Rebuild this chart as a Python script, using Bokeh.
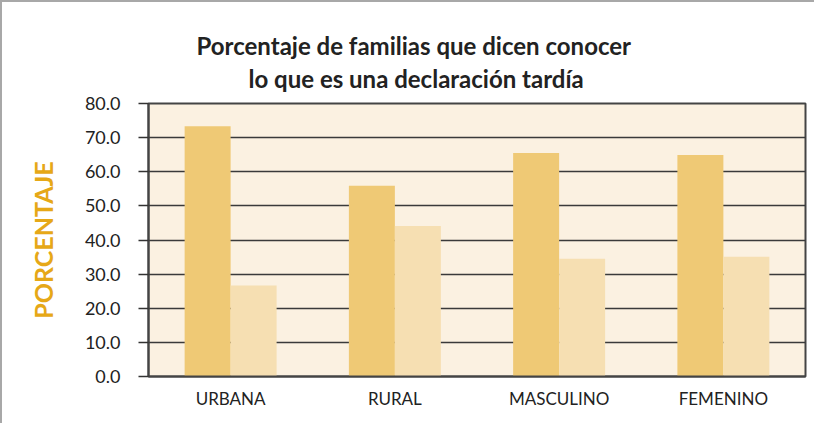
from bokeh.plotting import figure
from bokeh.models import ColumnDataSource, FactorRange, Range1d, FixedTicker, NumeralTickFormatter, Title
from bokeh.transform import dodge
from bokeh.embed import file_html
from bokeh.resources import INLINE

categories = ["URBANA", "RURAL", "MASCULINO", "FEMENINO"]
conoce = [73.3, 55.9, 65.5, 64.9]
no_conoce = [26.7, 44.1, 34.5, 35.1]
y_ticks = [0, 10, 20, 30, 40, 50, 60, 70, 80]
title_lines = ["Porcentaje de familias que dicen conocer", "lo que es una declaración tardía"]

src = ColumnDataSource(dict(cat=categories, a=conoce, b=no_conoce))

p = figure(x_range=FactorRange(*categories), y_range=Range1d(0, 80),
           width=814, height=423, output_backend="svg", toolbar_location=None,
           min_border_left=146, min_border_right=11, min_border_top=101, min_border_bottom=49)
p.styles = {"border-left": "2px solid #a8a8a8", "border-top": "2px solid #a8a8a8"}

p.vbar(x=dodge("cat", -0.14, range=p.x_range), top="a", width=0.28, source=src,
       fill_color="#EFC975", line_color=None)
p.vbar(x=dodge("cat", 0.14, range=p.x_range), top="b", width=0.28, source=src,
       fill_color="#F6DFB2", line_color=None)

p.background_fill_color = "#FBF1E1"
p.border_fill_color = "white"
p.outline_line_color = "#444444"
p.outline_line_width = 2

p.xgrid.grid_line_color = None
p.ygrid.grid_line_color = "#3a3a3a"
p.ygrid.grid_line_width = 1.5
p.ygrid.ticker = FixedTicker(ticks=y_ticks)
p.ygrid.level = "underlay"

p.yaxis.ticker = FixedTicker(ticks=y_ticks)
p.yaxis.formatter = NumeralTickFormatter(format="0.0")
p.yaxis.major_tick_out = 10
p.yaxis.major_tick_in = 0
p.yaxis.minor_tick_line_color = None
p.yaxis.major_tick_line_color = "#333333"
p.yaxis.major_tick_line_width = 1.5
p.yaxis.axis_line_color = "#444444"
p.yaxis.axis_line_width = 2
p.yaxis.major_label_text_font = "Lato"
p.yaxis.major_label_text_font_size = "18px"
p.yaxis.major_label_text_color = "#222222"
p.yaxis.major_label_standoff = 18
p.yaxis.axis_label = "PORCENTAJE"
p.yaxis.axis_label_text_font = "Lato"
p.yaxis.axis_label_text_font_style = "bold"
p.yaxis.axis_label_text_font_size = "25px"
p.yaxis.axis_label_text_color = "#E6A817"
p.yaxis.axis_label_standoff = 24

p.xaxis.major_tick_line_color = None
p.xaxis.minor_tick_line_color = None
p.xaxis.axis_line_color = "#444444"
p.xaxis.axis_line_width = 2
p.xaxis.major_label_text_font = "Lato"
p.xaxis.major_label_text_font_size = "17px"
p.xaxis.major_label_text_color = "#222222"
p.xaxis.major_label_standoff = 5

for i, line in enumerate(reversed(title_lines)):
    t = Title(text=line, align="left", offset=48 if i == 1 else 100,
              text_font="Lato", text_font_style="bold",
              text_font_size="24px", text_color="#222222",
              standoff=21 if i == 0 else -16)
    p.add_layout(t, "above")

open("out.html", "w").write(file_html(p, INLINE))
